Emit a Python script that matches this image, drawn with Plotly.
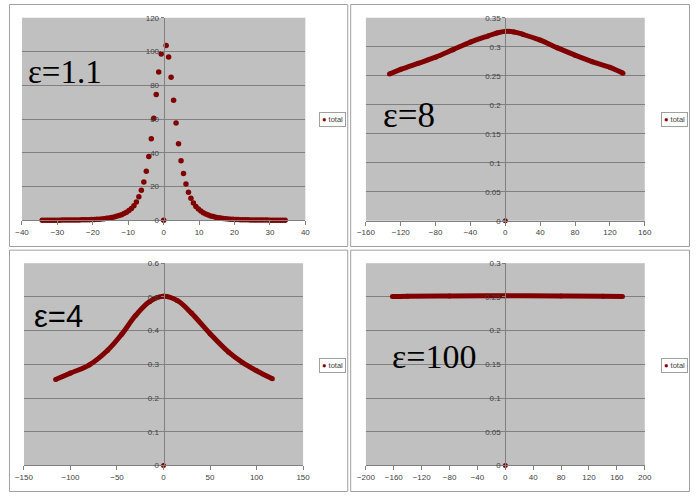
import plotly.graph_objects as go

# ── data ────────────────────────────────────────────────────────

# ε=1.1 : separate dots
eps11_x = [-34.3, -33.6, -32.9, -32.2, -31.5, -30.8, -30.1, -29.4, -28.7, -28.0,
           -27.3, -26.6, -25.9, -25.2, -24.5, -23.8, -23.1, -22.4, -21.7, -21.0,
           -20.3, -19.6, -18.9, -18.2, -17.5, -16.8, -16.1, -15.4, -14.7, -14.0,
           -13.3, -12.6, -11.9, -11.2, -10.5, -9.8, -9.1, -8.4, -7.7, -7.0,
           -6.3, -5.6, -4.9, -4.2, -3.5, -2.8, -2.1, -1.4, -0.7,
           0.0,
           0.7, 1.4, 2.1, 2.8, 3.5, 4.2, 4.9, 5.6, 6.3, 7.0,
           7.7, 8.4, 9.1, 9.8, 10.5, 11.2, 11.9, 12.6, 13.3, 14.0,
           14.7, 15.4, 16.1, 16.8, 17.5, 18.2, 18.9, 19.6, 20.3, 21.0,
           21.7, 22.4, 23.1, 23.8, 24.5, 25.2, 25.9, 26.6, 27.3, 28.0,
           28.7, 29.4, 30.1, 30.8, 31.5, 32.2, 32.9, 33.6, 34.3]
eps11_y = [0.1, 0.1, 0.1, 0.1, 0.1, 0.1, 0.1, 0.1, 0.15, 0.15,
           0.15, 0.2, 0.2, 0.2, 0.25, 0.25, 0.3, 0.3, 0.35, 0.4,
           0.45, 0.5, 0.6, 0.7, 0.85, 1.0, 1.2, 1.4, 1.7, 2.0,
           2.4, 2.8, 3.3, 4.0, 4.8, 5.8, 7.0, 8.6, 10.8, 14.0,
           17.8, 22.7, 29.1, 37.8, 48.3, 60.5, 74.6, 87.8, 98.5,
           0.0,
           103.5, 96.7, 84.7, 71.1, 57.6, 45.4, 35.3, 27.7, 21.5, 16.6,
           13.0, 10.2, 8.2, 6.7, 5.5, 4.5, 3.7, 3.1, 2.6, 2.2,
           1.8, 1.5, 1.3, 1.1, 0.9, 0.8, 0.7, 0.6, 0.5, 0.45,
           0.4, 0.35, 0.3, 0.3, 0.25, 0.25, 0.2, 0.2, 0.2, 0.15,
           0.15, 0.15, 0.1, 0.1, 0.1, 0.1, 0.1, 0.1, 0.1]

# ε=8 : dense dots, drawn as a thick band
eps8_x = [-133, -120, -100, -80, -60, -40, -20, -10, 0, 10, 20, 40, 60, 80, 100, 120, 135]
eps8_y = [0.253, 0.261, 0.2715, 0.282, 0.295, 0.308, 0.3185, 0.3235, 0.3265,
          0.3255, 0.3215, 0.3115, 0.298, 0.2855, 0.274, 0.2645, 0.2545]

# ε=4
eps4_x = [-116, -100, -80, -60, -45, -30, -15, 0, 15, 30, 50, 70, 85, 100, 117]
eps4_y = [0.255, 0.274, 0.298, 0.342, 0.389, 0.445, 0.486, 0.502,
          0.489, 0.452, 0.391, 0.336, 0.305, 0.281, 0.257]

# ε=100
eps100_x = [-162, -140, -80, 0, 80, 140, 168]
eps100_y = [0.2505, 0.251, 0.2515, 0.2518, 0.2515, 0.251, 0.2505]

# the lone point at the origin in the dense panels
origin_x = [0]
origin_y = [0]

RED = '#800000'
W, H = 697, 497


def px(x):
    return x / W


def py(y):
    return 1 - y / H


# (x data, y data, dense?, xdomain px, ydomain px, xrange, xdtick, yrange, ydtick,
#  label, label font, label size, label left/centre px, legend centre px)
panels = [
    (eps11_x, eps11_y, False, (13.3, 303.3), (14, 220.3), [-40, 40], 10, [0, 120], 20,
     'ε=1.1', 'Liberation Serif', 33, (17, 69), (331, 118)),
    (eps8_x, eps8_y, True, (365.3, 650.7), (14, 220.7), [-160, 160], 40, [0, 0.35], 0.05,
     'ε=8', 'Liberation Serif', 35, (381, 114), (681, 118)),
    (eps4_x, eps4_y, True, (15.3, 301), (264, 470), [-150, 150], 50, [0, 0.6], 0.1,
     'ε=4', 'Liberation Sans', 31, (24, 318), (331, 368)),
    (eps100_x, eps100_y, True, (365.3, 650.7), (264, 470), [-200, 200], 40, [0, 0.3], 0.05,
     'ε=100', 'Liberation Serif', 34, (390, 359), (681, 368)),
]

boxes = [(0.5, 0.5, 346.7, 247), (349.7, 0.5, 696.5, 247),
         (0.5, 250.7, 346.7, 496.5), (349.7, 250.7, 696.5, 496.5)]

fig = go.Figure()
layout = {}
annotations = []
shapes = []
tick_font = dict(family='Liberation Sans', size=8, color='#404040')

for i, (xs, ys, dense, xd, yd, xr, xdt, yr, ydt,
        label, lfont, lsize, lpos, legpos) in enumerate(panels):
    n = '' if i == 0 else str(i + 1)
    xa, ya = 'x' + n, 'y' + n

    if dense:
        fig.add_trace(go.Scatter(
            x=xs, y=ys, mode='lines+markers', xaxis=xa, yaxis=ya,
            line=dict(color=RED, width=5, shape='spline'),
            marker=dict(color=RED, size=5), showlegend=False, cliponaxis=False
        ))
        fig.add_trace(go.Scatter(
            x=origin_x, y=origin_y, mode='markers', xaxis=xa, yaxis=ya, name='total',
            marker=dict(color=RED, size=5), showlegend=False, cliponaxis=False
        ))
    else:
        fig.add_trace(go.Scatter(
            x=xs, y=ys, mode='markers', xaxis=xa, yaxis=ya, name='total',
            marker=dict(color=RED, size=5.5), showlegend=False, cliponaxis=False
        ))

    xdom = [px(xd[0]), px(xd[1])]
    layout['xaxis' + n] = dict(
        domain=xdom, anchor=ya, range=xr, dtick=xdt, tick0=0,
        showgrid=False, zeroline=False, showline=True, linecolor='#808080',
        ticks='outside', ticklen=4, tickcolor='#808080', tickfont=tick_font,
        fixedrange=True
    )
    layout['yaxis' + n] = dict(
        domain=[py(yd[1]), py(yd[0])], anchor='free', position=sum(xdom) / 2,
        range=yr, dtick=ydt, tick0=0,
        showgrid=True, gridcolor='#808080', gridwidth=1, zeroline=False,
        showline=True, linecolor='#808080', ticks='outside', ticklen=3,
        tickcolor='#808080', tickfont=tick_font, ticklabelstandoff=0,
        fixedrange=True
    )

    # big ε label
    annotations.append(dict(
        xref='paper', yref='paper', x=px(lpos[0]), y=py(lpos[1]),
        xanchor='left', yanchor='middle', showarrow=False, text=label,
        font=dict(family=lfont, size=lsize, color='black')
    ))
    # Excel-like legend box
    annotations.append(dict(
        xref='paper', yref='paper', x=px(legpos[0]), y=py(legpos[1]),
        xanchor='center', yanchor='middle', showarrow=False,
        text=f"<span style='color:{RED}'>●</span> total",
        font=dict(family='Liberation Sans', size=7.5, color='#404040'),
        bgcolor='white', bordercolor='#a0a0a0', borderwidth=1, borderpad=2
    ))

for (x0, y0, x1, y1) in boxes:
    shapes.append(dict(type='rect', xref='paper', yref='paper',
                       x0=px(x0), x1=px(x1), y0=py(y1), y1=py(y0),
                       line=dict(color='#a0a0a0', width=1)))

fig.update_layout(
    **layout,
    width=W, height=H,
    margin=dict(l=0, r=0, t=0, b=0),
    paper_bgcolor='white',
    plot_bgcolor='#c0c0c0',
    showlegend=False,
    annotations=annotations,
    shapes=shapes
)

# drop the browser's default 8px page margin so the figure sits at 0,0
fig.write_html("out.html",
               config={'displayModeBar': False},
               post_script="document.body.style.margin='0';"
                           "document.body.style.overflow='hidden';")
